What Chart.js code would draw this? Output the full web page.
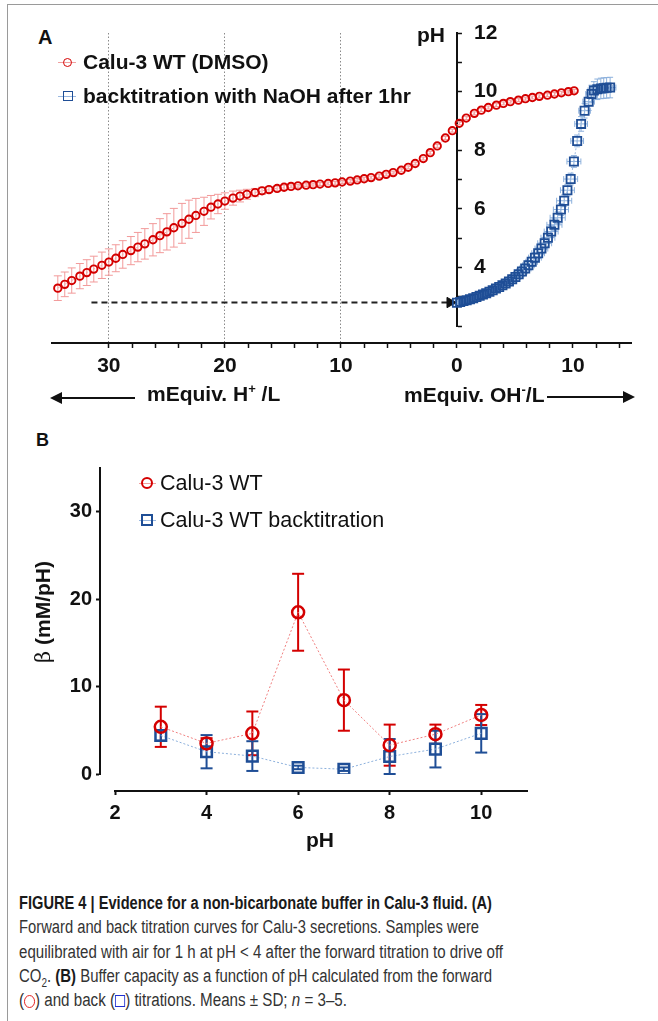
<!DOCTYPE html>
<html lang="en">
<head>
<meta charset="UTF-8">
<title>Figure 4 - Calu-3 buffer capacity</title>
<script src="https://cdn.jsdelivr.net/npm/chart.js"></script>
<style>
  body { margin: 0; background: #fff; }
  #page { position: relative; width: 658px; height: 1021px; overflow: hidden;
    font-family: 'Liberation Sans', Arial, sans-serif; color: #111; }
  .frame { position: absolute; left: 7px; top: 4px; width: 700px; height: 1100px;
    border-left: 1px solid #9a9a9a; border-top: 1px solid #9a9a9a; }
  .t { position: absolute; white-space: nowrap; line-height: 24px; }
  .b { font-weight: bold; }
  canvas { position: absolute; left: 0; }
  .arrow { position: absolute; height: 0; border-top: 2px solid #111; }
  .arrow.l::before { content: ''; position: absolute; left: -2px; top: -7px;
    border-right: 12px solid #111; border-top: 6px solid transparent; border-bottom: 6px solid transparent; }
  .arrow.r::after { content: ''; position: absolute; right: -2px; top: -7px;
    border-left: 12px solid #111; border-top: 6px solid transparent; border-bottom: 6px solid transparent; }
  .mk { position: absolute; box-sizing: border-box; }
  .mk.c { border-radius: 50%; }
  .mk.line { height: 1px; }
  sup { font-size: 13px; vertical-align: 8px; line-height: 0; }
  #caption { position: absolute; left: 19px; top: 891px; color: #333; font-size: 18px; }
  #caption .cl { height: 24.3px; line-height: 24.3px; white-space: nowrap; }
  #caption .cl span.in { display: inline-block; transform-origin: 0 50%; }
  #caption b { color: #1a1a1a; }
  .circ { display: inline-block; width: 13px; height: 13px; border: 1.3px solid #e01010; border-radius: 50%; vertical-align: -2px; box-sizing: border-box; }
  .sq { display: inline-block; width: 12px; height: 12px; border: 1.3px solid #2030d0; vertical-align: -1px; box-sizing: border-box; }
</style>
</head>
<body>
<div id="page">
  <div class="frame"></div>

  <!-- panel A -->
  <div class="t b" style="left:38px;top:25px;font-size:20px">A</div>
  <canvas id="chartA" width="658" height="420" style="top:0"></canvas>
  <div class="mk line" style="left:58px;top:62px;width:18px;background:#f0a0a0"></div>
  <div class="mk c" style="left:63px;top:58px;width:9px;height:9px;border:1.8px solid #d40000"></div>
  <div class="t b" style="left:83px;top:50px;font-size:21px">Calu-3 WT (DMSO)</div>
  <div class="mk line" style="left:58px;top:96px;width:18px;background:#9ab8e0"></div>
  <div class="mk" style="left:63px;top:91px;width:10px;height:10px;border:1.8px solid #1f4e96"></div>
  <div class="t b" style="left:83px;top:84px;font-size:21px">backtitration with NaOH after 1hr</div>
  <div class="t b" style="left:417px;top:23px;font-size:21px">pH</div>
  <div class="arrow l" style="left:52px;top:397px;width:83px"></div>
  <div class="t b" style="left:147px;top:382px;font-size:21px">mEquiv. H<sup>+</sup> /L</div>
  <div class="t b" style="left:404px;top:383px;font-size:21px">mEquiv. OH<sup>-</sup>/L</div>
  <div class="arrow r" style="left:547px;top:396px;width:86px"></div>

  <!-- panel B -->
  <div class="t b" style="left:36px;top:428px;font-size:18px">B</div>
  <canvas id="chartB" width="658" height="440" style="top:420px"></canvas>
  <div class="mk line" style="left:139px;top:483px;width:17px;background:#f0a0a0"></div>
  <div class="mk c" style="left:141px;top:477px;width:12px;height:12px;border:2px solid #d40000"></div>
  <div class="t" style="left:160px;top:471px;font-size:21.5px">Calu-3 WT</div>
  <div class="mk line" style="left:139px;top:520px;width:17px;background:#9ab8e0"></div>
  <div class="mk" style="left:141px;top:514px;width:12px;height:12px;border:2px solid #1f4e96"></div>
  <div class="t" style="left:160px;top:508px;font-size:21.5px">Calu-3 WT backtitration</div>
  <div class="t b" style="left:43px;top:612px;font-size:21px;transform:translate(-50%,-50%) rotate(-90deg)"><span style="font-weight:normal;font-family:'DejaVu Serif',serif">β</span> (mM/pH)</div>
  <div class="t b" style="left:306px;top:828px;font-size:21px">pH</div>

  <div id="caption">
    <div class="cl" data-w="473"><span class="in"><b>FIGURE 4 | Evidence for a non-bicarbonate buffer in Calu-3 fluid. (A)</b></span></div>
    <div class="cl" data-w="460"><span class="in">Forward and back titration curves for Calu-3 secretions. Samples were</span></div>
    <div class="cl" data-w="484"><span class="in">equilibrated with air for 1 h at pH &lt; 4 after the forward titration to drive off</span></div>
    <div class="cl" data-w="473"><span class="in">CO<sub style="font-size:12px">2</sub>. <b>(B)</b> Buffer capacity as a function of pH calculated from the forward</span></div>
    <div class="cl" data-w="328"><span class="in">(<span class="circ"></span>) and back (<span class="sq"></span>) titrations. Means ± SD; <i>n</i> = 3–5.</span></div>
  </div>
</div>

<script>
// ---- panel A: titration curves (x in mEquiv/L, acid side negative) ----
const fwdX = [-34.4, -33.8, -33.2, -32.5, -31.9, -31.3, -30.6, -30.0, -29.4, -28.8, -28.1, -27.5,
  -26.9, -26.2, -25.6, -25.0, -24.4, -23.7, -23.1, -22.5, -21.8, -21.2, -20.6, -20.0,
  -19.3, -18.7, -18.1, -17.4, -16.8, -16.2, -15.5, -14.9, -14.3, -13.7, -13.0, -12.4,
  -11.8, -11.1, -10.5, -9.9, -9.2, -8.6, -8.0, -7.4, -6.7, -6.1, -5.5, -4.8,
  -4.2, -3.6, -2.9, -2.3, -1.7, -1.0, -0.4, 0.2, 0.8, 1.5, 2.1, 2.7,
  3.4, 4.0, 4.6, 5.3, 5.9, 6.5, 7.1, 7.8, 8.4, 9.0, 9.6, 10.1];
const fwdPH = [3.30, 3.43, 3.56, 3.71, 3.83, 3.95, 4.08, 4.19, 4.32, 4.45, 4.58, 4.70,
  4.81, 4.95, 5.09, 5.22, 5.36, 5.51, 5.65, 5.78, 5.92, 6.06, 6.17, 6.27,
  6.37, 6.44, 6.50, 6.56, 6.62, 6.66, 6.70, 6.74, 6.77, 6.79, 6.81, 6.83,
  6.85, 6.87, 6.89, 6.92, 6.95, 6.99, 7.03, 7.07, 7.12, 7.18, 7.24, 7.32,
  7.42, 7.55, 7.72, 7.92, 8.15, 8.42, 8.67, 8.92, 9.10, 9.26, 9.37, 9.46,
  9.54, 9.60, 9.66, 9.71, 9.76, 9.80, 9.84, 9.88, 9.92, 9.96, 10.00, 10.03];
const fwdSD = [0.42, 0.42, 0.43, 0.43, 0.44, 0.44, 0.45, 0.45, 0.46, 0.47, 0.48, 0.50,
  0.52, 0.55, 0.58, 0.62, 0.66, 0.68, 0.65, 0.58, 0.48, 0.40, 0.33, 0.28,
  0.24, 0.20, 0.17, 0.14, 0.12, 0.10, 0.08, 0.07, 0.05, 0.05, 0.05, 0.05,
  0.05, 0.05, 0.05, 0.05, 0.05, 0.05, 0.05, 0.05, 0.05, 0.05, 0.05, 0.05,
  0.05, 0.05, 0.05, 0.05, 0.05, 0.05, 0.05, 0.05, 0.05, 0.05, 0.05, 0.05,
  0.05, 0.05, 0.05, 0.05, 0.05, 0.05, 0.05, 0.05, 0.05, 0.05, 0.05, 0.05];

const backX = [0.0, 0.28, 0.56, 0.84, 1.12, 1.40, 1.68, 1.96, 2.24, 2.52, 2.80, 3.08,
  3.36, 3.64, 3.92, 4.20, 4.48, 4.76, 5.04, 5.32, 5.60, 5.88, 6.16, 6.44,
  6.72, 7.00, 7.28, 7.56, 7.84, 8.12, 8.40, 8.68, 8.96, 9.24, 9.52, 9.80,
  10.08, 10.36, 10.70, 11.00, 11.35, 11.60, 11.80, 12.10, 12.40, 12.65, 12.90, 13.20];
const backPH = [2.80, 2.83, 2.86, 2.89, 2.92, 2.96, 3.00, 3.04, 3.08, 3.13, 3.18, 3.23,
  3.29, 3.34, 3.40, 3.46, 3.53, 3.60, 3.68, 3.77, 3.87, 3.97, 4.08, 4.20,
  4.34, 4.49, 4.65, 4.83, 5.02, 5.23, 5.46, 5.70, 5.98, 6.28, 6.64, 7.02,
  7.62, 8.32, 8.90, 9.35, 9.66, 9.92, 10.04, 10.08, 10.11, 10.12, 10.13, 10.14];
const backSDx = [0.15, 0.2, 0.2, 0.25, 0.25, 0.3, 0.3, 0.3, 0.3, 0.3, 0.35, 0.35,
  0.35, 0.35, 0.4, 0.4, 0.4, 0.4, 0.45, 0.45, 0.45, 0.5, 0.5, 0.5,
  0.55, 0.55, 0.55, 0.6, 0.6, 0.6, 0.65, 0.65, 0.65, 0.65, 0.6, 0.6,
  0.6, 0.55, 0.55, 0.5, 0.5, 0.5, 0.5, 0.5, 0.5, 0.5, 0.5, 0.5];
const backSDy = [0.05, 0.05, 0.05, 0.05, 0.05, 0.05, 0.05, 0.05, 0.06, 0.06, 0.06, 0.07,
  0.07, 0.08, 0.08, 0.09, 0.1, 0.1, 0.11, 0.12, 0.13, 0.14, 0.15, 0.16,
  0.17, 0.18, 0.19, 0.2, 0.2, 0.2, 0.2, 0.2, 0.2, 0.2, 0.2, 0.2,
  0.2, 0.2, 0.25, 0.25, 0.3, 0.3, 0.3, 0.35, 0.35, 0.35, 0.35, 0.35];

const arrowX = [-31.5, -0.6];
const arrowPH = [2.81, 2.81];

const xTicksA = [-30, -28, -26, -24, -22, -20, -18, -16, -14, -12, -10, -8, -6, -4, -2,
  0, 2, 4, 6, 8, 10, 12, 14];
const xTickTextA = ['30', '', '', '', '', '20', '', '', '', '', '10', '', '', '', '',
  '0', '', '', '', '', '10', '', ''];
const gridLinesA = [-30, -20, -10];
const yTicksA = [2, 3, 4, 5, 6, 7, 8, 9, 10, 11, 12];
const yTickTextA = ['', '', '4', '', '6', '', '8', '', '10', '', '12'];

// ---- panel B: buffer capacity ----
const pHB = [3, 4, 5, 6, 7, 8, 9, 10];
const betaFwd = [5.4, 3.5, 4.65, 18.5, 8.45, 3.3, 4.55, 6.75];
const betaFwdSD = [2.3, 0.6, 2.5, 4.4, 3.5, 2.35, 1.1, 1.15];
const betaBack = [4.4, 2.55, 2.05, 0.75, 0.55, 2.0, 2.85, 4.65];
const betaBackSD = [0.6, 1.9, 1.7, 0.2, 0.2, 2.0, 2.1, 2.2];
const xTicksB = [2, 4, 6, 8, 10];
const yTicksB = [0, 10, 20, 30];

const RED = '#d40000';
const BLUE = '#1f4e96';
const FONT = "'Liberation Sans', Arial, sans-serif";

// draws SD bars from the dataset's errX / errY arrays, under the markers
const errorBars = {
  id: 'errorBars',
  beforeDatasetsDraw(chart) {
    const { ctx, scales: { x, y } } = chart;
    chart.data.datasets.forEach(ds => {
      if (!ds.errY && !ds.errX) return;
      ctx.save();
      ctx.strokeStyle = ds.errColor;
      ctx.lineWidth = ds.errWidth;
      const cap = ds.errCap;
      const seg = (x1, y1, x2, y2) => { ctx.beginPath(); ctx.moveTo(x1, y1); ctx.lineTo(x2, y2); ctx.stroke(); };
      ds.data.forEach((p, i) => {
        const px = x.getPixelForValue(p.x);
        const py = y.getPixelForValue(p.y);
        if (ds.errY) {
          const top = y.getPixelForValue(p.y + ds.errY[i]);
          const bot = y.getPixelForValue(p.y - ds.errY[i]);
          seg(px, top, px, bot);
          seg(px - cap, top, px + cap, top);
          seg(px - cap, bot, px + cap, bot);
        }
        if (ds.errX) {
          const l = x.getPixelForValue(p.x - ds.errX[i]);
          const r = x.getPixelForValue(p.x + ds.errX[i]);
          seg(l, py, r, py);
          seg(l, py - cap, l, py + cap);
          seg(r, py - cap, r, py + cap);
        }
      });
      ctx.restore();
    });
  }
};

// moves / trims axis lines after layout (Prism style offset axes).
// The scale boxes keep some size so the tick labels are not clipped away.
const placeAxes = fn => ({
  id: 'placeAxes',
  afterLayout(chart) { fn(chart.scales); }
});

const pts = (xs, ys) => xs.map((v, i) => ({ x: v, y: ys[i] }));
const fontA = { family: FONT, size: 21, weight: 'bold' };
const fontB = { family: FONT, size: 20, weight: 'bold' };

new Chart(document.getElementById('chartA'), {
  type: 'scatter',
  data: {
    datasets: [{
      label: 'Calu-3 WT (DMSO)',
      data: pts(fwdX, fwdPH),
      errY: fwdSD, errColor: '#f29a9a', errWidth: 1, errCap: 4,
      showLine: true, borderColor: '#f3a5a5', borderWidth: 1, borderDash: [2, 2],
      pointStyle: 'circle', pointRadius: 3.7, pointBorderWidth: 1.9,
      pointBorderColor: RED, pointBackgroundColor: 'rgba(0,0,0,0)'
    }, {
      label: 'backtitration with NaOH after 1hr',
      data: pts(backX, backPH),
      errX: backSDx, errY: backSDy, errColor: '#8cb0dc', errWidth: 1, errCap: 3,
      showLine: true, borderColor: '#9ab8e0', borderWidth: 1, borderDash: [2, 2],
      pointStyle: 'rect', pointRadius: 5.8, pointBorderWidth: 1.8,
      pointBorderColor: BLUE, pointBackgroundColor: 'rgba(0,0,0,0)'
    }, {
      label: 'arrow',
      data: pts(arrowX, arrowPH),
      showLine: true, borderColor: '#222', borderWidth: 2, borderDash: [6, 4],
      pointStyle: 'triangle', rotation: 90, pointRadius: [0, 6],
      pointBackgroundColor: '#111', pointBorderColor: '#111', pointBorderWidth: 1
    }]
  },
  options: {
    responsive: false,
    animation: false,
    layout: { padding: { left: 52, right: 27, top: 33, bottom: 77 } },
    plugins: { legend: { display: false }, tooltip: { enabled: false } },
    scales: {
      x: {
        type: 'linear', position: 'bottom', min: -34.9, max: 15, bounds: 'data',
        afterFit: s => { s.height = 0; },
        afterBuildTicks: s => { s.ticks = xTicksA.map(v => ({ value: v })); },
        ticks: {
          autoSkip: false, maxRotation: 0, padding: 6, color: '#111', font: fontA,
          callback: v => xTickTextA[xTicksA.indexOf(v)] ?? ''
        },
        grid: {
          color: c => (c.tick && gridLinesA.includes(c.tick.value)) ? '#8a8a8a' : 'rgba(0,0,0,0)',
          lineWidth: 1, tickColor: '#111', tickLength: 5, tickWidth: 1.5
        },
        border: { color: '#111', width: 2, dash: [1.5, 2] }
      },
      y: {
        type: 'linear', position: 'right', min: 1.43, max: 12, bounds: 'data',
        afterFit: s => { s.width = 0; },
        afterBuildTicks: s => { s.ticks = yTicksA.map(v => ({ value: v })); },
        ticks: {
          autoSkip: false, padding: 12, color: '#111', font: fontA,
          callback: v => yTickTextA[yTicksA.indexOf(v)] ?? ''
        },
        grid: { drawOnChartArea: false, tickColor: '#111', tickLength: 5, tickWidth: 1.5 },
        border: { color: '#111', width: 2 }
      }
    }
  },
  plugins: [errorBars, placeAxes(({ x, y }) => {
    const p = x.getPixelForValue(0);
    y.left = p;
    y.right = p + 70;
    y.bottom = y.getPixelForValue(2);
    x.bottom = x.top + 50;
  })]
});

new Chart(document.getElementById('chartB'), {
  type: 'scatter',
  data: {
    datasets: [{
      label: 'Calu-3 WT',
      data: pts(pHB, betaFwd),
      errY: betaFwdSD, errColor: RED, errWidth: 2, errCap: 6,
      showLine: true, borderColor: '#f08080', borderWidth: 1, borderDash: [2, 2],
      pointStyle: 'circle', pointRadius: 6, pointBorderWidth: 2.5,
      pointBorderColor: RED, pointBackgroundColor: 'rgba(0,0,0,0)'
    }, {
      label: 'Calu-3 WT backtitration',
      data: pts(pHB, betaBack),
      errY: betaBackSD, errColor: BLUE, errWidth: 2, errCap: 6,
      showLine: true, borderColor: '#8cb0dc', borderWidth: 1, borderDash: [2, 2],
      pointStyle: 'rect', pointRadius: 7.5, pointBorderWidth: 2.5,
      pointBorderColor: BLUE, pointBackgroundColor: 'rgba(0,0,0,0)'
    }]
  },
  options: {
    responsive: false,
    animation: false,
    layout: { padding: { left: 100, right: 131, top: 48, bottom: 69 } },
    plugins: { legend: { display: false }, tooltip: { enabled: false } },
    scales: {
      x: {
        type: 'linear', position: 'bottom', min: 1.672, max: 11, bounds: 'data',
        afterFit: s => { s.height = 0; },
        afterBuildTicks: s => { s.ticks = xTicksB.map(v => ({ value: v })); },
        ticks: { autoSkip: false, maxRotation: 0, padding: 6, color: '#111', font: fontB },
        grid: { drawOnChartArea: false, tickColor: '#111', tickLength: 4, tickWidth: 2 },
        border: { color: '#111', width: 2 }
      },
      y: {
        type: 'linear', position: 'left', min: -1.944, max: 35, bounds: 'data',
        afterFit: s => { s.width = 0; },
        afterBuildTicks: s => { s.ticks = yTicksB.map(v => ({ value: v })); },
        ticks: { autoSkip: false, padding: 4, color: '#111', font: fontB },
        grid: { drawOnChartArea: false, tickColor: '#111', tickLength: 4, tickWidth: 2 },
        border: { color: '#111', width: 2 }
      }
    }
  },
  plugins: [errorBars, placeAxes(({ x, y }) => {
    y.left = y.right - 70;
    y.bottom = y.getPixelForValue(0);
    x.left = x.getPixelForValue(2);
    x.bottom = x.top + 50;
  })]
});

// squeeze caption lines to the condensed width of the original
document.fonts.ready.then(() => {
  document.querySelectorAll('#caption .cl').forEach(line => {
    const inner = line.querySelector('.in');
    const w = inner.getBoundingClientRect().width;
    inner.style.transform = 'scaleX(' + (Number(line.dataset.w) / w) + ')';
  });
});
</script>
</body>
</html>
